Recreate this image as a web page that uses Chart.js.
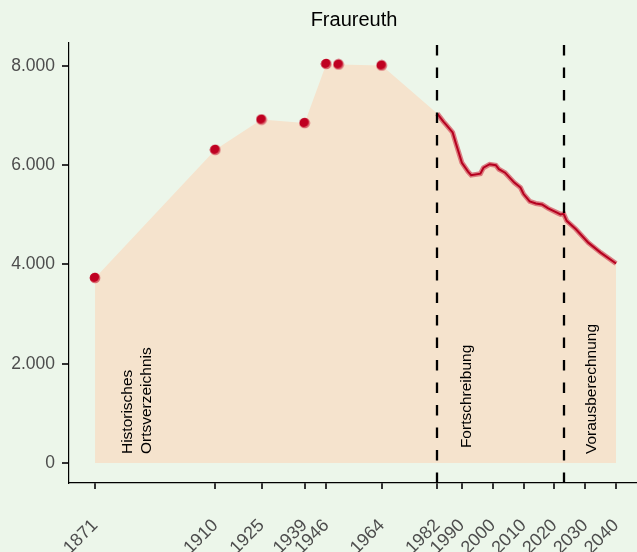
<!DOCTYPE html>
<html>
<head>
<meta charset="utf-8">
<script src="https://cdn.jsdelivr.net/npm/chart.js@4.4.1/dist/chart.umd.min.js"></script>
<style>
  html, body { margin: 0; padding: 0; background: #ecf6ea; overflow: hidden; }
  #wrap { width: 637px; height: 552px; overflow: hidden; }
</style>
</head>
<body>
<div id="wrap"><canvas id="chart" width="643" height="552"></canvas></div>
<script>
const chartTitle = 'Fraureuth';

// Historisches Ortsverzeichnis (points)
const histYears = [1871, 1910, 1925, 1939, 1946, 1950, 1964];
const histValues = [3730, 6310, 6920, 6850, 8040, 8030, 8010];

// Fortschreibung + Vorausberechnung (line)
const trendYears = [1982, 1984, 1985, 1987, 1988, 1989, 1990, 1992, 1993, 1996, 1997, 1999, 2001, 2002,
  2004, 2007, 2009, 2010, 2012, 2014, 2016, 2018, 2021, 2022, 2023, 2024, 2027, 2031, 2035, 2040];
const trendValues = [7040, 6880, 6810, 6660, 6450, 6250, 6050, 5870, 5800, 5830, 5950, 6020, 6000, 5920,
  5850, 5650, 5550, 5420, 5270, 5230, 5210, 5130, 5040, 5010, 5020, 4880, 4710, 4440, 4240, 4020];

const phaseBreaks = [1982, 2023];
const phaseLabels = [
  { lines: ['Historisches', 'Ortsverzeichnis'], year: 1881.7, value: 180 },
  { lines: ['Fortschreibung'], year: 1991.5, value: 300 },
  { lines: ['Vorausberechnung'], year: 2032.1, value: 180 }
];

const xTickYears = [1871, 1910, 1925, 1939, 1946, 1964, 1982, 1990, 2000, 2010, 2020, 2030, 2040];
const yTickValues = [0, 2000, 4000, 6000, 8000];

const FONT = "'Liberation Sans', Arial, sans-serif";

const histPoints = histYears.map((x, i) => ({ x: x, y: histValues[i] }));
const trendPoints = trendYears.map((x, i) => ({ x: x, y: trendValues[i] }));
const areaPoints = histPoints.concat(trendPoints);

function formatDe(v) {
  return String(v).replace(/\B(?=(\d{3})+(?!\d))/g, '.');
}

// zweifarbiger Punkt wie im Original
function makeDot() {
  const c = document.createElement('canvas');
  c.width = 12; c.height = 12;
  const g = c.getContext('2d');
  g.fillStyle = '#d9666e';
  g.beginPath(); g.arc(6, 6, 5.3, 0, 2 * Math.PI); g.fill();
  g.save(); g.clip();
  g.fillStyle = '#bf0021';
  g.beginPath(); g.arc(5, 5, 5, 0, 2 * Math.PI); g.fill();
  g.restore();
  return c;
}

const bgPlugin = {
  id: 'bg',
  beforeDraw(chart) {
    const ctx = chart.ctx;
    ctx.save();
    ctx.fillStyle = '#ecf6ea';
    ctx.fillRect(0, 0, chart.width, chart.height);
    ctx.restore();
  },
  afterDraw(chart) {
    // Titel ueber dem Plotbereich zentriert
    const ctx = chart.ctx;
    const area = chart.chartArea;
    ctx.save();
    ctx.fillStyle = '#000';
    ctx.font = '20px ' + FONT;
    ctx.textAlign = 'center';
    ctx.textBaseline = 'middle';
    ctx.fillText(chartTitle, (area.left + area.right) / 2 + 1, 20);
    ctx.restore();
  }
};

const phasePlugin = {
  id: 'phases',
  afterDatasetsDraw(chart) {
    const ctx = chart.ctx;
    const xs = chart.scales.x, ys = chart.scales.y;
    const area = chart.chartArea;
    ctx.save();
    ctx.strokeStyle = '#000';
    ctx.lineWidth = 2.3;
    ctx.setLineDash([10.5, 12]);
    phaseBreaks.forEach(year => {
      const px = Math.round(xs.getPixelForValue(year));
      ctx.beginPath();
      ctx.moveTo(px, area.bottom);
      ctx.lineTo(px, area.top);
      ctx.stroke();
    });
    ctx.setLineDash([]);
    ctx.fillStyle = '#000';
    ctx.font = '15.5px ' + FONT;
    ctx.textAlign = 'left';
    ctx.textBaseline = 'middle';
    phaseLabels.forEach(lbl => {
      const px = xs.getPixelForValue(lbl.year);
      const py = ys.getPixelForValue(lbl.value);
      ctx.save();
      ctx.translate(px, py);
      ctx.rotate(-Math.PI / 2);
      lbl.lines.forEach((line, i) => ctx.fillText(line, 0, i * 19));
      ctx.restore();
    });
    ctx.restore();
  }
};

const ctx = document.getElementById('chart').getContext('2d');
new Chart(ctx, {
  type: 'line',
  data: {
    datasets: [
      {
        label: 'Historisches Ortsverzeichnis',
        data: histPoints,
        showLine: false,
        pointStyle: makeDot(),
        pointRadius: 5,
        order: 1
      },
      {
        label: 'Fortschreibung',
        data: trendPoints,
        borderColor: '#b5001f',
        borderWidth: 2,
        pointRadius: 0,
        fill: false,
        order: 2
      },
      {
        label: 'halo',
        data: trendPoints,
        borderColor: 'rgba(215, 95, 105, 0.8)',
        borderWidth: 5,
        pointRadius: 0,
        fill: false,
        order: 3
      },
      {
        label: 'area',
        data: areaPoints,
        borderWidth: 0,
        borderColor: 'rgba(0,0,0,0)',
        backgroundColor: '#f5e3cd',
        pointRadius: 0,
        fill: { value: 0 },
        order: 4
      }
    ]
  },
  options: {
    responsive: false,
    animation: false,
    layout: { padding: { top: 43, left: 0, right: 0, bottom: 0 } },
    plugins: {
      legend: { display: false },
      tooltip: { enabled: false },
      title: { display: false }
    },
    scales: {
      x: {
        type: 'linear',
        bounds: 'data',
        min: 1862.55,
        max: 2046.8,
        afterBuildTicks: s => { s.ticks = xTickYears.map(v => ({ value: v })); },
        afterFit: s => { s.height = 69; s.paddingLeft = 0; s.paddingRight = 0; },
        grid: { drawOnChartArea: false, tickLength: 6, color: '#333', lineWidth: 2 },
        border: { color: '#000', width: 1.2 },
        ticks: {
          autoSkip: false,
          minRotation: 45,
          maxRotation: 45,
          padding: 26,
          color: '#4d4d4d',
          font: { family: FONT, size: 18 },
          callback: v => String(v)
        }
      },
      y: {
        bounds: 'data',
        min: -403,
        max: 8463,
        afterBuildTicks: s => { s.ticks = yTickValues.map(v => ({ value: v })); },
        afterFit: s => { s.width = 69; s.paddingTop = 0; s.paddingBottom = 0; },
        grid: { drawOnChartArea: false, tickLength: 7, color: '#333', lineWidth: 2 },
        border: { color: '#000', width: 1.2 },
        ticks: {
          padding: 7,
          color: '#4d4d4d',
          font: { family: FONT, size: 17.5 },
          callback: v => formatDe(v)
        }
      }
    }
  },
  plugins: [bgPlugin, phasePlugin]
});
</script>
</body>
</html>
